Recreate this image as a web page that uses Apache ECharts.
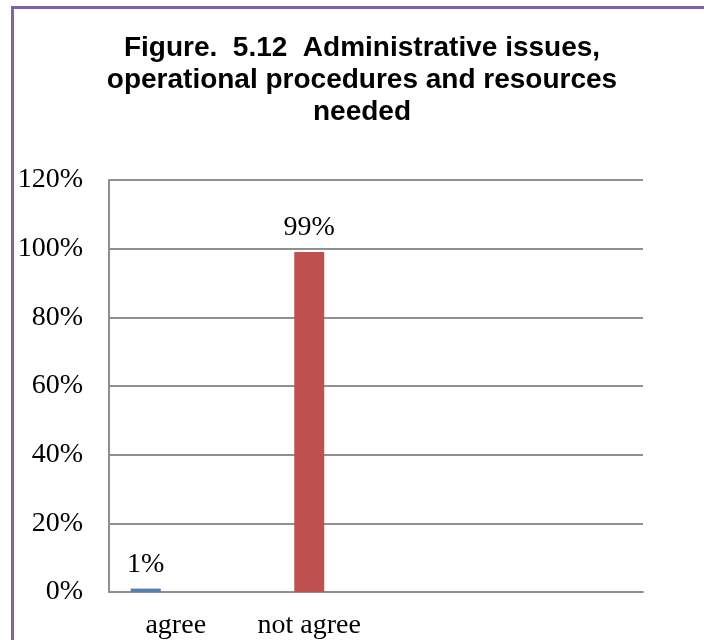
<!DOCTYPE html>
<html>
<head>
<meta charset="utf-8">
<style>
  html, body { margin: 0; padding: 0; background: #ffffff; }
  #chart { width: 704px; height: 640px; }
</style>
<script src="https://cdn.jsdelivr.net/npm/echarts@6/dist/echarts.min.js"></script>
</head>
<body>
<div id="chart"></div>
<script>
// Response categories (two empty slots keep the original column spacing)
const categories = ['agree', 'not agree', '', ''];
// Share of respondents, percent
const agreeValues = [1, '-', '-', '-'];
const notAgreeValues = ['-', 99, '-', '-'];
const thirdSeriesValues = ['-', '-', '-', '-'];
// Value axis range and step, percent
const yMin = 0;
const yMax = 120;
const yStep = 20;

const titleText = 'Figure.  5.12  Administrative issues,\noperational procedures and resources\nneeded';

const serif = '"Liberation Serif", "DejaVu Serif", serif';
const gridColor = '#8f8f8f';

const chart = echarts.init(document.getElementById('chart'), null, { renderer: 'canvas' });

const labelStyle = {
  show: true,
  position: 'top',
  distance: 10,
  formatter: '{c}%',
  fontFamily: serif,
  fontSize: 28,
  color: '#000000'
};

chart.setOption({
  animation: false,
  backgroundColor: '#ffffff',
  graphic: [{
    type: 'rect',
    shape: { x: 12.5, y: 7.5, width: 900, height: 900 },
    style: { fill: 'none', stroke: '#8064A2', lineWidth: 3 },
    silent: true
  }],
  title: {
    text: titleText,
    left: 357,
    top: 27,
    textAlign: 'center',
    textStyle: {
      fontFamily: '"Liberation Sans", Arial, sans-serif',
      fontWeight: 'bold',
      fontSize: 28,
      lineHeight: 32,
      color: '#000000'
    }
  },
  grid: { left: 109, right: 61, top: 180, bottom: 47, containLabel: false },
  xAxis: {
    type: 'category',
    data: categories,
    axisLine: { show: true, lineStyle: { color: gridColor, width: 2 } },
    axisTick: { show: false },
    axisLabel: {
      interval: 0,
      margin: 20,
      fontFamily: serif,
      fontSize: 28,
      color: '#000000'
    },
    splitLine: { show: false }
  },
  yAxis: {
    type: 'value',
    min: yMin,
    max: yMax,
    interval: yStep,
    axisLine: { show: true, lineStyle: { color: gridColor, width: 2 } },
    axisTick: { show: false },
    axisLabel: {
      margin: 26,
      formatter: '{value}%',
      fontFamily: serif,
      fontSize: 28,
      color: '#000000'
    },
    splitLine: { show: true, lineStyle: { color: gridColor, width: 2 } }
  },
  series: [
    {
      name: 'agree',
      type: 'bar',
      data: agreeValues,
      barWidth: 30,
      barGap: '0%',
      itemStyle: { color: '#4F81BD' },
      label: labelStyle
    },
    {
      name: 'not agree',
      type: 'bar',
      data: notAgreeValues,
      barWidth: 30,
      barGap: '0%',
      itemStyle: { color: '#C0504D' },
      label: labelStyle
    },
    {
      name: 'other',
      type: 'bar',
      data: thirdSeriesValues,
      barWidth: 30,
      barGap: '0%',
      itemStyle: { color: '#9BBB59' },
      label: labelStyle
    }
  ]
});
</script>
</body>
</html>
